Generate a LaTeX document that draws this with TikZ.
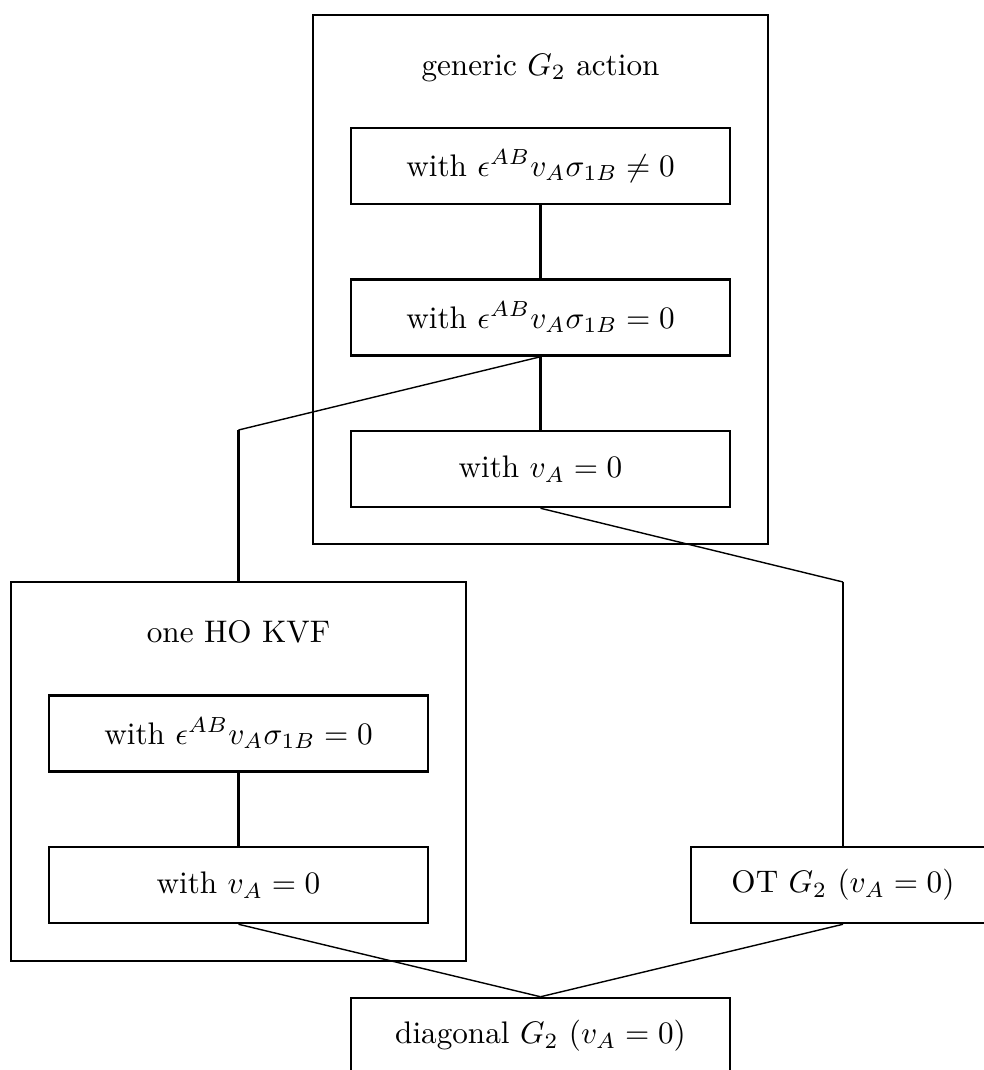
\documentclass[tikz,border=0pt]{standalone}
\begin{document}
\begin{tikzpicture}[x=0.3205pt,y=-0.3205pt,
  box/.style={draw,line width=0.8pt,inner sep=0pt,minimum width=121.47pt,minimum height=24.36pt},
  frame/.style={draw,line width=0.8pt,inner sep=0pt},
  title/.style={anchor=base,inner sep=0pt},
  link/.style={line width=0.8pt},
  slant/.style={line width=0.45pt}]
\useasboundingbox (0,0) rectangle (984,1070);
\clip (0,0) rectangle (984,1070);
% outer frames
\node[frame,minimum width=145.83pt,minimum height=169.54pt] (g1) at (540.5,279.5) {};
\node[frame,minimum width=145.83pt,minimum height=121.47pt] (g2) at (238.5,771.5) {};
% titles
\node[title] (t1) at (540.5,75) {generic $G_2$ action};
\node[title] (t2) at (238.5,642) {one HO KVF};
% inner boxes
\node[box] (A) at (540.5,166) {with $\epsilon^{AB}v_A\sigma_{1B}\neq 0$};
\node[box] (B) at (540.5,317.5) {with $\epsilon^{AB}v_A\sigma_{1B}= 0$};
\node[box] (C) at (540.5,469) {with $v_A=0$};
\node[box] (D) at (238.5,733.5) {with $\epsilon^{AB}v_A\sigma_{1B}= 0$};
\node[box] (E) at (238.5,885) {with $v_A=0$};
\node[box,minimum width=97.43pt] (OT) at (843,885) {OT $G_2$ $(v_A=0)$};
\node[box] (Dg) at (540.5,1036) {diagonal $G_2$ $(v_A=0)$};
% bends
\coordinate (k1) at (238.5,430);
\coordinate (k2) at (843,582);
% connectors
\draw[link] (A.south) -- (B.north);
\draw[link] (B.south) -- (C.north);
\draw[slant] (B.south) -- (k1);
\draw[link] (k1) -- (g2.north);
\draw[slant] (C.south) -- (k2);
\draw[link] (k2) -- (OT.north);
\draw[link] (D.south) -- (E.north);
\draw[slant] (E.south) -- (Dg.north);
\draw[slant] (OT.south) -- (Dg.north);
\end{tikzpicture}
\end{document}
